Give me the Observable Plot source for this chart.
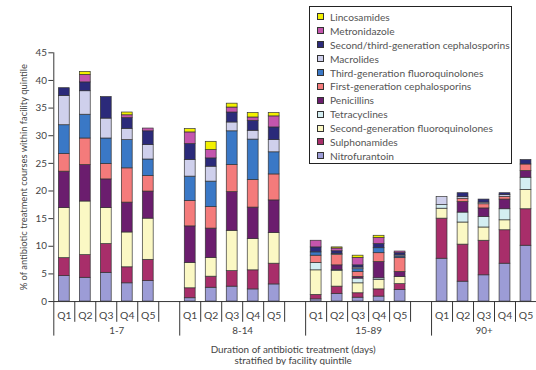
<!DOCTYPE html>
<html><head><meta charset="utf-8">
<script src="https://cdn.jsdelivr.net/npm/d3@7"></script>
<script src="https://cdn.jsdelivr.net/npm/@observablehq/plot@0.6"></script>
<style>
html,body{margin:0;padding:0;overflow:hidden;background:#fff;width:536px;height:370px}
#wrap{position:relative;width:536px;height:370px;overflow:hidden}
#chart{position:absolute;left:0;top:0}
#legend{position:absolute;left:309px;top:6px;width:203px;height:158px;border:1px solid #222;background:#fff;box-sizing:border-box;padding-top:3px;font-family:Lato,sans-serif;font-size:10.2px;color:#555}
.item{height:13.9px;display:flex;align-items:center;white-space:nowrap}
.sw{width:5px;height:5px;border:1px solid #333;margin-left:7px;margin-right:6px;flex:none}
</style></head>
<body><div id="wrap"><div id="chart"></div><div id="legend"></div></div>
<script>
const groups = ["1-7", "8-14", "15-89", "90+"];
const quintiles = ["Q1", "Q2", "Q3", "Q4", "Q5"];
const classes = ["Nitrofurantoin", "Sulphonamides", "Second-generation fluoroquinolones", "Tetracyclines", "Penicillins", "First-generation cephalosporins", "Third-generation fluoroquinolones", "Macrolides", "Second/third-generation cephalosporins", "Metronidazole", "Lincosamides"];
const colors = ["#9c9cd6", "#a82e6a", "#fbf8c4", "#d4eef2", "#6b1d6e", "#f47b7b", "#3a78c6", "#cfd0ec", "#2b2a7a", "#c455ad", "#f2f000"];
const yTicks = [0, 5, 10, 15, 20, 25, 30, 35, 40, 45];

// values per class: 1-7 Q1..Q5, 8-14 Q1..Q5, 15-89 Q1..Q5, 90+ Q1..Q5
const nitrofurantoin  = [4.6, 4.3, 5.2, 3.3, 3.7,  0.6, 2.5, 2.7, 2.2, 3.1,  0.4, 1.4, 0.7, 0.9, 2.1,  7.75, 3.6, 4.75, 6.85, 10.1];
const sulphonamides   = [3.25, 4.1, 5.2, 2.9, 3.85, 1.8, 2.0, 2.8, 3.45, 3.75, 0.8, 1.3, 0.8, 1.3, 1.05, 7.25, 6.7, 6.25, 6.05, 6.6];
const secondGenFQ     = [9.05, 9.7, 6.5, 6.3, 7.45, 4.6, 3.4, 7.3, 5.65, 5.55, 4.45, 2.8, 1.8, 1.7, 1.3, 1.8, 4.0, 2.4, 1.8, 3.5];
const tetracyclines   = [0, 0, 0, 0, 0,  0, 0, 0, 0, 0,  1.35, 0.2, 0.85, 0.3, 0,  0.65, 1.8, 1.9, 2.0, 2.2];
const penicillins     = [6.6, 6.6, 5.2, 5.4, 4.9,  6.6, 5.3, 7.0, 5.7, 5.9,  0, 0.85, 0.3, 2.95, 0.9,  0, 1.9, 1.55, 1.75, 1.2];
const firstGenCeph    = [3.2, 4.8, 2.8, 6.2, 2.8,  4.6, 3.9, 4.9, 5.0, 4.7,  1.3, 1.85, 0.9, 1.6, 2.5,  0, 0.6, 0.75, 0.5, 1.2];
const thirdGenFQ      = [5.2, 4.3, 4.6, 5.1, 3.0,  4.4, 4.6, 6.1, 7.3, 4.0,  0.6, 0, 0.5, 0.9, 0.3,  0, 0, 0, 0, 0];
const macrolides      = [5.3, 4.25, 3.6, 2.05, 2.6, 3.0, 2.7, 1.6, 1.6, 2.2, 0, 0.2, 0.3, 0, 0.2, 1.45, 0.3, 0.3, 0.3, 0];
const secondThirdCeph = [1.4, 1.6, 3.9, 1.95, 2.5, 2.9, 1.5, 1.8, 1.8, 2.3, 0.9, 0.5, 0.4, 0.75, 0.4, 0, 0.7, 0.55, 0.35, 0.8];
const metronidazole   = [0, 1.35, 0, 0.5, 0.5,  2.1, 1.5, 0.9, 0.6, 2.0,  1.2, 0.5, 1.35, 1.1, 0.3,  0, 0, 0, 0, 0];
const lincosamides    = [0, 0.55, 0, 0.5, 0,  0.6, 1.5, 0.7, 0.8, 0.6,  0, 0.2, 0.4, 0.4, 0,  0, 0, 0, 0, 0];

const series = [nitrofurantoin, sulphonamides, secondGenFQ, tetracyclines, penicillins, firstGenCeph, thirdGenFQ, macrolides, secondThirdCeph, metronidazole, lincosamides];

const rows = [];
classes.forEach((c, i) => series[i].forEach((v, j) => {
  if (v > 0) rows.push({key: groups[Math.floor(j / 5)] + "|" + quintiles[j % 5], cls: c, value: v});
}));

const keys = groups.flatMap((g, gi) => [...quintiles.map(q => g + "|" + q), ...(gi < groups.length - 1 ? [g + "|gap"] : [])]);

const W = 543, H = 370, ML = 54, MR = 0, MT = 53, MB = 65;
const step = (W - ML - MR) / keys.length;
const barW = 11;
const inset = (step - barW) / 2;
const frameH = H - MT - MB;
const shortB = keys.filter(k => !k.endsWith("Q1"));
const longB = keys.filter(k => k.endsWith("Q1"));
const font = "Lato, sans-serif";
const gapGroups = groups.slice(0, -1);
const lastGroup = groups.slice(-1);

const plot = Plot.plot({
  width: W, height: H, marginLeft: ML, marginRight: MR, marginTop: MT, marginBottom: MB,
  style: {fontFamily: font, fontSize: "10px", color: "#444", background: "transparent"},
  x: {domain: keys, padding: 0, round: false, axis: null},
  y: {domain: [0, 45], axis: null},
  color: {domain: classes, range: colors},
  marks: [
    Plot.barY(rows, {x: "key", y: "value", fill: "cls", order: classes, stroke: "#333", strokeWidth: 0.7, insetLeft: inset, insetRight: inset}),
    Plot.ruleY([0], {stroke: "#333", strokeWidth: 1}),
    Plot.ruleX([keys[0]], {x: d => d, dx: -step / 2, insetBottom: -35, stroke: "#333"}),
    Plot.ruleX(longB.slice(1), {x: d => d, dx: -step / 2, insetTop: frameH, insetBottom: -35, stroke: "#333"}),
    Plot.ruleX(shortB, {x: d => d, dx: -step / 2, insetTop: frameH, insetBottom: -21, stroke: "#333"}),
    Plot.axisY({ticks: yTicks, tickSize: 5, tickPadding: 2, label: null, fill: "#444", stroke: "#333", fontSize: 10}),
    Plot.axisX({domain: keys, tickSize: 0, tickPadding: 10, label: null, fill: "#444", fontSize: 10.5,
      tickFormat: k => k.endsWith("gap") ? "" : k.split("|")[1]}),
    Plot.text(gapGroups, {x: g => g + "|Q3", y: () => 0, dx: step / 2, dy: 30, lineAnchor: "middle", text: d => d, fill: "#444", fontSize: 10}),
    Plot.text(lastGroup, {x: g => g + "|Q3", y: () => 0, dy: 30, lineAnchor: "middle", text: d => d, fill: "#444", fontSize: 10}),
    Plot.text(["% of antibiotic treatment courses within facility quintile"], {frameAnchor: "left", textAnchor: "middle", rotate: -90, dx: -30, text: d => d, fill: "#444", fontSize: 9.5}),
    Plot.text(["Duration of antibiotic treatment (days)\nstratified by facility quintile"], {frameAnchor: "bottom", dx: -2, dy: 54.5, lineAnchor: "middle", lineHeight: 1.1, text: d => d, fill: "#444", fontSize: 10})
  ]
});
document.getElementById("chart").appendChild(plot);

const legend = document.getElementById("legend");
for (let i = classes.length - 1; i >= 0; i--) {
  const it = document.createElement("div");
  it.className = "item";
  it.innerHTML = `<span class="sw" style="background:${colors[i]}"></span><span>${classes[i]}</span>`;
  legend.appendChild(it);
}
</script></body></html>
